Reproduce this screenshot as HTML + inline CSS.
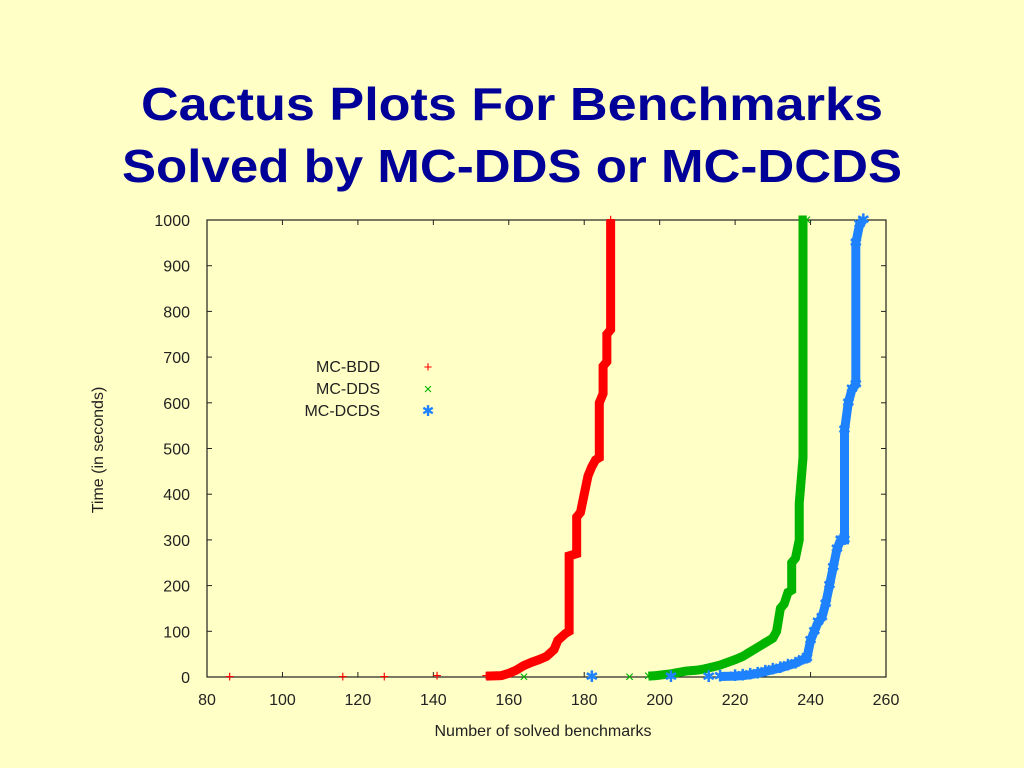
<!DOCTYPE html>
<html><head><meta charset="utf-8"><style>
html,body{margin:0;padding:0;background:#ffffc6;}
svg{display:block;font-family:"Liberation Sans",sans-serif;}
</style></head><body>
<svg id="chart" width="1024" height="768" viewBox="0 0 1024 768">
<rect width="1024" height="768" fill="#ffffc6"/>
<text x="512" y="120" text-anchor="middle" font-size="46" font-weight="bold" fill="#000099" textLength="742" lengthAdjust="spacingAndGlyphs">Cactus Plots  For Benchmarks</text>
<text x="512" y="182" text-anchor="middle" font-size="46" font-weight="bold" fill="#000099" textLength="780" lengthAdjust="spacingAndGlyphs">Solved by MC-DDS or MC-DCDS</text>
<g id="axes"></g>
<g id="series"></g>
<g id="legend"></g>
</svg>
<script>
const xTicks=[80,100,120,140,160,180,200,220,240,260];
const yTicks=[0,100,200,300,400,500,600,700,800,900,1000];
const seriesNames=["MC-BDD","MC-DDS","MC-DCDS"];
const seriesColors=["#ff0000","#00b400","#1e82ff"];
const bddX=[86,116,127,141,154,158,160,162,164,166,168,170,172,173,175,176,176,178,178,179,180,181,182,183,184,184,185,185,186,186,187,187];
const bddY=[0,0,0,2,2,3,8,15,25,32,38,45,60,80,95,100,265,270,350,360,400,440,460,475,480,600,620,680,690,750,760,1000];
const ddsX=[164,192,197,199,201,203,205,207,210,212,214,216,218,220,222,224,226,228,230,231,232,233,234,235,235,236,237,237,238,238,239];
const ddsY=[0,0,2,3,5,7,10,13,15,18,22,26,32,38,45,55,65,75,85,100,150,160,185,190,250,260,300,380,480,1000,1000];
const dcdsX=[182,203,213,216,220,222,224,226,228,230,232,234,236,238,239,240,241,242,243,244,245,246,247,248,249,249,250,251,252,252,253,254];
const dcdsY=[0,0,0,1,2,3,5,8,12,16,20,25,30,38,40,80,100,120,130,160,200,240,280,300,300,540,600,630,640,950,990,1000];

const L=207,R=886,T=220,B=677;
const xs=v=>L+(v-80)/(260-80)*(R-L);
const ys=v=>B-v/1000*(B-T);
const NS="http://www.w3.org/2000/svg";
function mk(tag,attrs,parent){const e=document.createElementNS(NS,tag);for(const k in attrs)e.setAttribute(k,attrs[k]);parent.appendChild(e);return e;}
const axes=document.getElementById('axes');
const frame=mk('rect',{x:L,y:T,width:R-L,height:B-T,fill:'none',stroke:'#222','stroke-width':1.2},axes);


xTicks.forEach(t=>{
 const x=xs(t);
 const a=mk('line',{x1:x,y1:B,x2:x,y2:B-5,stroke:'#222'},axes);
 
 
 const b=mk('line',{x1:x,y1:T,x2:x,y2:T+5,stroke:'#222'},axes);
 
 
 const tx=mk('text',{x:x,y:B+28,'text-anchor':'middle','font-size':16,fill:'#222'},axes);
 tx.textContent=t;
 
 
});
yTicks.forEach(t=>{
 const y=ys(t);
 const a=mk('line',{x1:L,y1:y,x2:L+5,y2:y,stroke:'#222'},axes);
 
 
 const b=mk('line',{x1:R,y1:y,x2:R-5,y2:y,stroke:'#222'},axes);
 
 
 const tx=mk('text',{x:L-17,y:y+6,'text-anchor':'end','font-size':16,fill:'#222'},axes);
 tx.textContent=t;
 
 
});
const xt=mk('text',{x:543,y:736,'text-anchor':'middle','font-size':16,fill:'#222'},axes);
xt.textContent='Number of solved benchmarks';


const yt=mk('text',{x:0,y:0,'text-anchor':'middle','font-size':16,fill:'#222',transform:'translate(103,450) rotate(-90)'},axes);
yt.textContent='Time (in seconds)';



const sg=document.getElementById('series');
const data=[[bddX,bddY],[ddsX,ddsY],[dcdsX,dcdsY]];
const marks=['+','\u00d7','\u2731'];
data.forEach((d,i)=>{
 const pts=d[0].map((v,j)=>xs(v)+','+ys(d[1][j])).join(' ');
 const g=mk('g',{},sg);
 
 
 // dense part: thick line from where points become continuous
 const start=i===0?4:(i===1?2:3);
 const dense=d[0].slice(start).map((v,j)=>xs(v)+','+ys(d[1][j+start])).join(' ');
 const pl=mk('polyline',{points:dense,fill:'none',stroke:seriesColors[i],'stroke-width':9,'stroke-linejoin':'miter'},g);
 
 
 d[0].forEach((v,j)=>{
  const m=mk('text',{x:xs(v),y:ys(d[1][j])+5,'text-anchor':'middle','font-size':16,fill:seriesColors[i]},g);
  m.textContent=marks[i];
  
  
 });
});
const lg=document.getElementById('legend');
seriesNames.forEach((n,i)=>{
 const y=372+i*22;
 const t=mk('text',{x:380,y:y,'text-anchor':'end','font-size':16,fill:'#222'},lg);
 t.textContent=n;
 
 
 const m=mk('text',{x:428,y:y,'text-anchor':'middle','font-size':15,fill:seriesColors[i]},lg);
 m.textContent=marks[i];
 
 
});
</script>
</body></html>
